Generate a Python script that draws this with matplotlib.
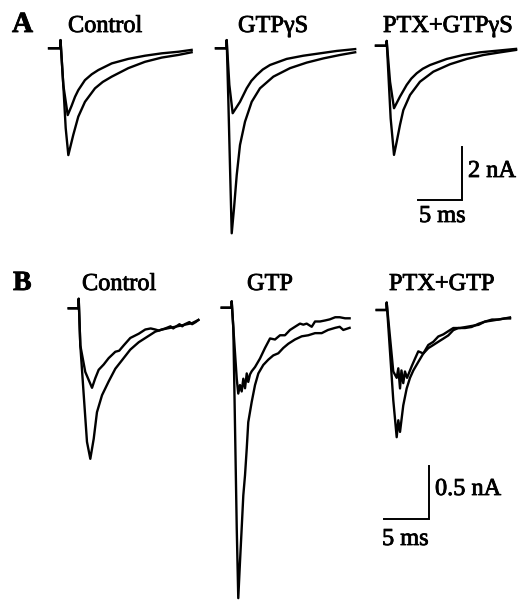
import matplotlib
matplotlib.use("Agg")
import matplotlib.pyplot as plt
import matplotlib.patheffects as pe

# ---------------- data (time in ms after stimulus, current in nA) ----------------
# Panel A
ctrlA_small_t = [-1.3, 0.0, 0.0, 0.32, 0.82, 1.25, 1.65, 2.02, 2.78, 3.55, 4.30, 5.82, 7.70, 9.60, 11.5, 13.4, 14.9]
ctrlA_small_i = [0, 0, 0.31, -1.39, -2.52, -2.18, -1.83, -1.58, -1.20, -0.98, -0.82, -0.57, -0.40, -0.28, -0.19, -0.13, -0.06]
ctrlA_large_t = [-1.3, 0.0, 0.0, 0.32, 0.59, 0.89, 1.45, 2.02, 2.78, 3.92, 4.8, 5.82, 7.70, 9.60, 11.5, 13.4, 14.9]
ctrlA_large_i = [0, 0, 0.31, -1.39, -3.01, -4.03, -3.27, -2.58, -2.02, -1.51, -1.27, -1.07, -0.75, -0.51, -0.35, -0.25, -0.15]

gtpgsA_small_t = [-1.22, 0, 0, 0.30, 0.68, 1.51, 2.27, 2.8, 3.41, 4.1, 4.92, 6.82, 8.70, 10.6, 12.5, 14.6]
gtpgsA_small_i = [0, 0, 0.31, -1.38, -2.45, -2.02, -1.51, -1.23, -1.01, -0.80, -0.63, -0.40, -0.28, -0.19, -0.10, -0.03]
gtpgsA_large_t = [-1.22, 0, 0, 0.19, 0.38, 0.57, 0.83, 1.14, 1.51, 2.08, 2.84, 3.78, 5.30, 7.19, 9.09, 11.0, 12.9, 14.6]
gtpgsA_large_i = [0, 0, 0.31, -2.02, -4.53, -6.98, -6.04, -4.78, -3.65, -2.77, -2.02, -1.51, -1.07, -0.75, -0.54, -0.38, -0.25, -0.15]

ptxA_small_t = [-1.22, 0, 0, 0.38, 0.83, 1.51, 2.27, 2.8, 3.41, 4.1, 4.92, 6.82, 8.70, 10.6, 12.5, 14.7]
ptxA_small_i = [0, 0, 0.18, -1.36, -2.36, -1.92, -1.48, -1.24, -1.04, -0.87, -0.73, -0.50, -0.35, -0.25, -0.19, -0.12]
ptxA_large_t = [-1.22, 0, 0, 0.45, 0.83, 1.14, 1.51, 1.89, 2.65, 3.78, 5.30, 7.19, 9.09, 11.0, 12.9, 14.7]
ptxA_large_i = [0, 0, 0.18, -2.74, -4.12, -3.62, -2.99, -2.43, -1.86, -1.36, -0.98, -0.70, -0.50, -0.35, -0.25, -0.16]

# Panel B
ctrlB_small_t = [-1.11, 0, 0, 0.18, 0.73, 1.48, 1.84, 2.22, 2.78, 3.33, 4.07, 4.5, 5.00, 5.73, 6.67, 7.40,
                 8.0, 8.51, 8.9, 9.62, 10.2, 10.5, 11.2, 11.5, 11.8, 12.3, 12.6, 13.0, 13.3]
ctrlB_small_i = [0, 0, 0.09, -0.35, -0.60, -0.75, -0.66, -0.58, -0.53, -0.47, -0.41, -0.40, -0.35, -0.28, -0.24, -0.20,
                 -0.19, -0.20, -0.21, -0.19, -0.17, -0.19, -0.15, -0.17, -0.15, -0.13, -0.15, -0.13, -0.11]
ctrlB_large_t = [-1.11, 0, 0, 0.18, 0.56, 0.92, 1.29, 1.67, 2.03, 2.59, 3.33, 4.07, 4.81, 5.73, 6.67, 7.59,
                 8.51, 9.26, 10.4, 11.5, 12.6, 13.3]
ctrlB_large_i = [0, 0, 0.09, -0.35, -0.82, -1.26, -1.42, -1.23, -0.98, -0.82, -0.69, -0.57, -0.49, -0.39, -0.32, -0.27,
                 -0.22, -0.20, -0.18, -0.16, -0.14, -0.11]

gtpB_small_t = [-1.11, 0, 0, 0.18, 0.56, 0.73, 0.92, 1.11, 1.29, 1.48, 1.67, 1.84, 2.03, 2.22, 2.59, 3.14, 3.70,
                4.26, 4.81, 5.37, 5.92, 6.48, 7.03, 7.59, 7.96, 8.33, 8.89, 9.26, 9.81, 10.4, 10.9, 11.5, 12.0,
                12.6, 13.1]
gtpB_small_i = [0, 0, 0.06, -0.19, -0.67, -0.81, -0.73, -0.79, -0.67, -0.76, -0.62, -0.70, -0.63, -0.60, -0.56,
                -0.48, -0.38, -0.29, -0.30, -0.26, -0.26, -0.21, -0.18, -0.15, -0.16, -0.15, -0.18, -0.13, -0.13,
                -0.12, -0.11, -0.09, -0.09, -0.10, -0.10]
gtpB_large_t = [-1.11, 0, 0, 0.18, 0.37, 0.56, 0.73, 0.92, 1.11, 1.29, 1.48, 1.67, 1.84, 2.22, 2.59, 2.96, 3.51,
                4.07, 4.62, 5.18, 5.73, 6.29, 7.03, 7.78, 8.51, 9.26, 10.0, 10.7, 11.5, 12.0, 12.4, 13.1]
gtpB_large_i = [0, 0, 0.06, -0.19, -1.13, -2.08, -2.74, -2.40, -2.08, -1.77, -1.58, -1.33, -1.08, -0.89, -0.73,
                -0.62, -0.54, -0.49, -0.45, -0.43, -0.38, -0.34, -0.30, -0.27, -0.26, -0.24, -0.24, -0.21, -0.19,
                -0.18, -0.21, -0.19]

ptxB_small_t = [-1.11, 0, 0, 0.73, 1.11, 1.29, 1.48, 1.64, 1.84, 2.03, 2.26, 2.78, 3.14, 3.51, 4.07, 4.62, 5.18,
                5.73, 6.29, 6.84, 7.40, 7.96, 8.70, 9.44, 10.2, 10.9, 11.7, 12.4, 13.1, 13.7]
ptxB_small_i = [0, 0, 0.07, -0.58, -0.64, -0.55, -0.74, -0.57, -0.69, -0.58, -0.64, -0.53, -0.46, -0.39, -0.41,
                -0.36, -0.33, -0.30, -0.27, -0.24, -0.19, -0.17, -0.17, -0.16, -0.13, -0.11, -0.09, -0.09, -0.08, -0.08]
ptxB_large_t = [-1.11, 0, 0, 0.73, 1.11, 1.29, 1.48, 1.84, 2.22, 2.59, 2.96, 3.51, 4.07, 4.62, 5.18, 5.73, 6.29,
                6.84, 7.40, 8.15, 8.81, 9.48, 10.2, 10.9, 11.7, 12.4, 13.1, 13.7]
ptxB_large_i = [0, 0, 0.07, -0.85, -1.20, -1.04, -1.15, -0.90, -0.74, -0.64, -0.57, -0.49, -0.41, -0.33, -0.30,
                -0.25, -0.23, -0.20, -0.17, -0.17, -0.16, -0.15, -0.14, -0.11, -0.10, -0.09, -0.08, -0.07]

labels_A = ["Control", "GTPγS", "PTX+GTPγS"]
labels_B = ["Control", "GTP", "PTX+GTP"]
scale_ms = 5
scale_A_nA = 2
scale_B_nA = 0.5

# ---------------- layout ----------------
W, H = 521, 605
fig = plt.figure(figsize=(W / 100, H / 100), dpi=100)
fig.patch.set_facecolor("white")
SERIF = ["Liberation Serif", "DejaVu Serif"]
HEAVY = [pe.withStroke(linewidth=0.6, foreground="black")]


def make_ax(px_per_ms, px_per_nA, base_px):
    ax = fig.add_axes([0, 0, 1, 1])
    ax.set_axis_off()
    ax.patch.set_alpha(0)
    ax.set_xlim(0, W / px_per_ms)
    ax.set_ylim(-(H - base_px) / px_per_nA, base_px / px_per_nA)
    return ax


def ftext(x, y, s, **kw):
    fig.text(x / W, 1 - y / H, s, family=SERIF, va="baseline", ha="left",
             path_effects=HEAVY, **kw)


LW = 1.7
# Panel A axes: 8.8 px per ms, 26.5 px per nA
pxmsA, pxnA_A, baseA = 8.8, 26.5, 48.3
axA = make_ax(pxmsA, pxnA_A, baseA)
tracesA = [(ctrlA_small_t, ctrlA_small_i, ctrlA_large_t, ctrlA_large_i, 60.5, 48.3),
           (gtpgsA_small_t, gtpgsA_small_i, gtpgsA_large_t, gtpgsA_large_i, 226.7, 48.3),
           (ptxA_small_t, ptxA_small_i, ptxA_large_t, ptxA_large_i, 386.7, 45.7)]
for ts, is_, tl, il, xpx, ypx in tracesA:
    dx = xpx / pxmsA
    dy = (baseA - ypx) / pxnA_A
    axA.plot([t + dx for t in tl], [v + dy for v in il], color="black", lw=LW, solid_joinstyle="round")
    axA.plot([t + dx for t in ts], [v + dy for v in is_], color="black", lw=LW, solid_joinstyle="round")
cx, cy = 462 / pxmsA, -(200 - baseA) / pxnA_A
axA.plot([cx - scale_ms, cx, cx], [cy, cy, cy + scale_A_nA], color="black", lw=1.4, solid_joinstyle="miter")

# Panel B axes: 9 px per ms, 106 px per nA
pxmsB, pxnA_B, baseB = 9.0, 106.0, 308.3
axB = make_ax(pxmsB, pxnA_B, baseB)
tracesB = [(ctrlB_small_t, ctrlB_small_i, ctrlB_large_t, ctrlB_large_i, 78.7, 308.3),
           (gtpB_small_t, gtpB_small_i, gtpB_large_t, gtpB_large_i, 231.7, 307.7),
           (ptxB_small_t, ptxB_small_i, ptxB_large_t, ptxB_large_i, 386.7, 310.0)]
for ts, is_, tl, il, xpx, ypx in tracesB:
    dx = xpx / pxmsB
    dy = (baseB - ypx) / pxnA_B
    axB.plot([t + dx for t in tl], [v + dy for v in il], color="black", lw=LW, solid_joinstyle="round")
    axB.plot([t + dx for t in ts], [v + dy for v in is_], color="black", lw=LW, solid_joinstyle="round")
cx, cy = 429 / pxmsB, -(519 - baseB) / pxnA_B
axB.plot([cx - scale_ms, cx, cx], [cy, cy, cy + scale_B_nA], color="black", lw=1.4, solid_joinstyle="miter")

# ---------------- text ----------------
FS = 17.5
ftext(12, 32, "A", fontsize=21, fontweight="bold")
for s, x in zip(labels_A, [68, 238, 383]):
    ftext(x, 32, s, fontsize=FS)
ftext(468, 177, f"{scale_A_nA} nA", fontsize=FS)
ftext(419, 222, f"{scale_ms} ms", fontsize=FS)

ftext(13, 290, "B", fontsize=20, fontweight="bold")
for s, x in zip(labels_B, [82, 247, 389]):
    ftext(x, 290, s, fontsize=FS)
ftext(435, 495, f"{scale_B_nA} nA", fontsize=FS)
ftext(382, 545, f"{scale_ms} ms", fontsize=FS)

fig.savefig("out.png", dpi=100, facecolor="white")
